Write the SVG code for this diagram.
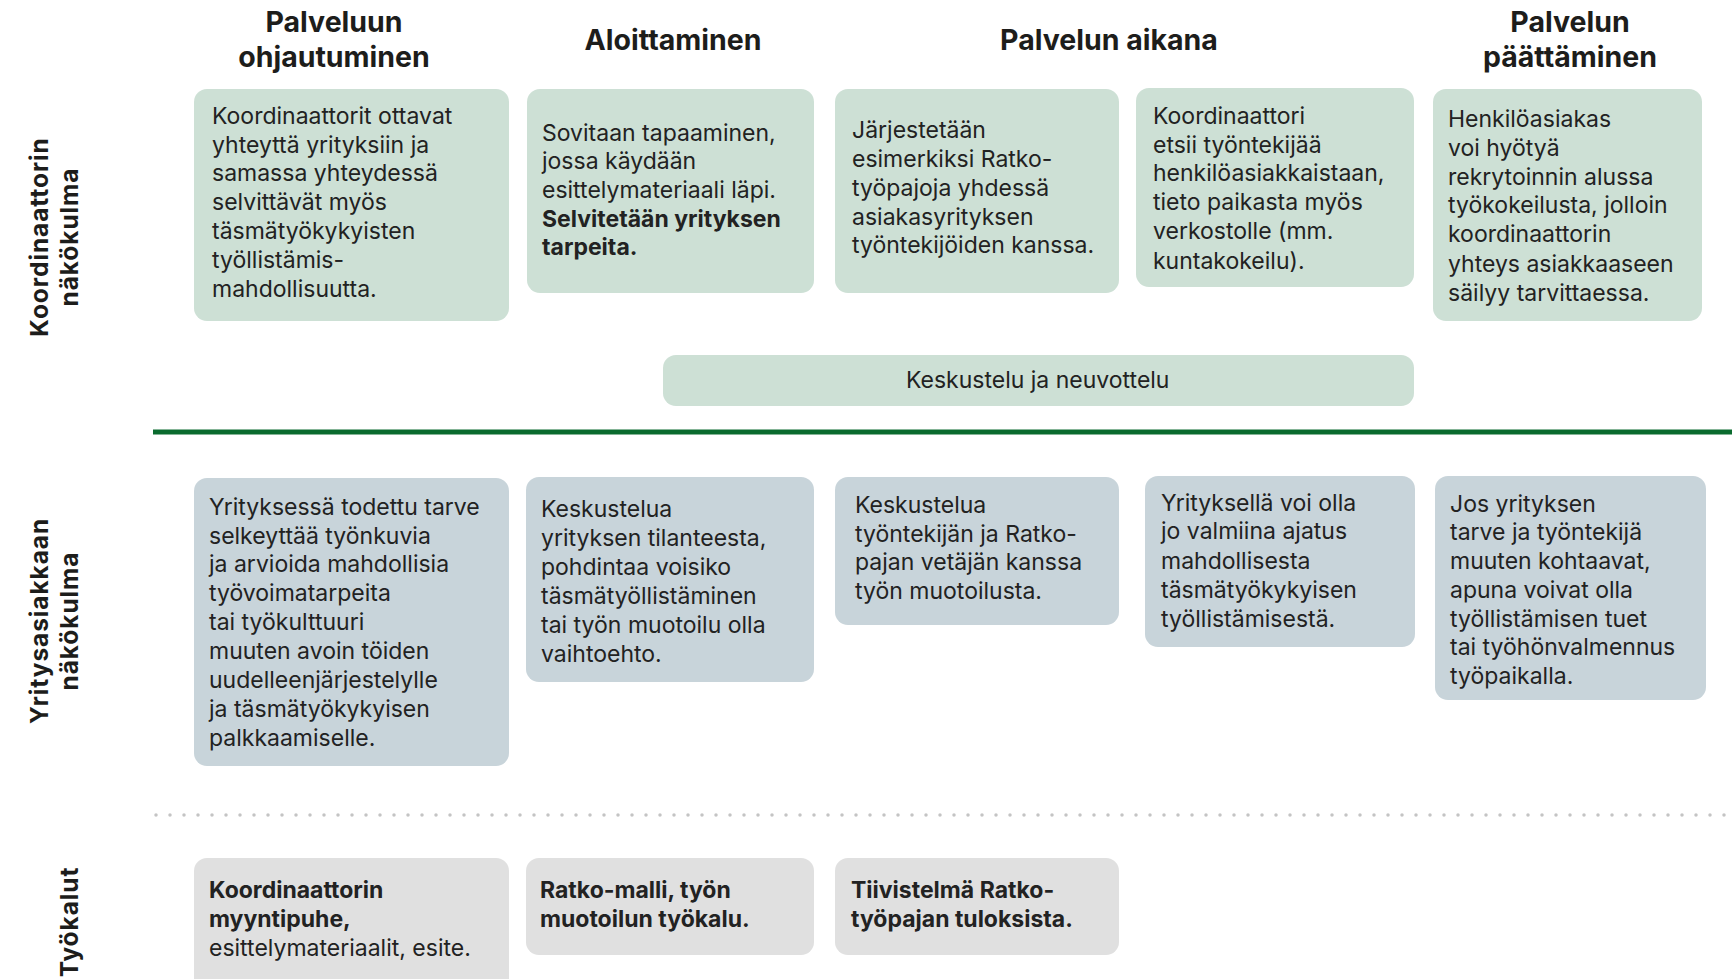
<svg xmlns="http://www.w3.org/2000/svg" width="1732" height="979" viewBox="0 0 1732 979">
<style>
.bg{fill:#ffffff}
.g{fill:#cde0d5}
.b{fill:#c8d4da}
.t{fill:#e0e0e0}
.h{font-family:Inter,"Open Sans","Liberation Sans",sans-serif;font-weight:700;font-size:28.5px;fill:#1d1d1b;text-anchor:middle}
.s{font-family:Inter,"Open Sans","Liberation Sans",sans-serif;font-weight:700;font-size:24.5px;letter-spacing:0.9px;fill:#1d1d1b;text-anchor:middle}
.x{font-family:Inter,"Open Sans","Liberation Sans",sans-serif;font-size:23px;fill:#222222}
.xb{font-weight:700}
</style>
<rect class="bg" x="0" y="0" width="1732" height="979"/>
<g id="headers">
<text class="h" x="334" y="32">Palveluun</text>
<text class="h" x="334" y="67">ohjautuminen</text>
<text class="h" x="673" y="50">Aloittaminen</text>
<text class="h" x="1109" y="50">Palvelun aikana</text>
<text class="h" x="1570" y="32">Palvelun</text>
<text class="h" x="1570" y="67">päättäminen</text>
</g>
<g id="rowlabels">
<text class="s" transform="translate(48,237) rotate(-90)">Koordinaattorin</text>
<text class="s" transform="translate(78,237) rotate(-90)">näkökulma</text>
<text class="s" transform="translate(48,621) rotate(-90)">Yritysasiakkaan</text>
<text class="s" transform="translate(78,621) rotate(-90)">näkökulma</text>
<text class="s" transform="translate(78,922) rotate(-90)">Työkalut</text>
</g>
<g id="connectors">
<line x1="153" y1="432" x2="1732" y2="432" stroke="#0a6b2e" stroke-width="5"/>
<line x1="156" y1="815" x2="1732" y2="815" stroke="#c4c4c4" stroke-width="3.5" stroke-linecap="round" stroke-dasharray="0 14"/>
</g>
<g id="b1"><rect class="g" x="194" y="89" width="315" height="232" rx="13"/>
<text class="x" x="212" y="124">Koordinaattorit ottavat</text>
<text class="x" x="212" y="153">yhteyttä yrityksiin ja</text>
<text class="x" x="212" y="181">samassa yhteydessä</text>
<text class="x" x="212" y="210">selvittävät myös</text>
<text class="x" x="212" y="239">täsmätyökykyisten</text>
<text class="x" x="212" y="268">työllistämis-</text>
<text class="x" x="212" y="297">mahdollisuutta.</text>
</g>
<g id="b2"><rect class="g" x="527" y="89" width="287" height="204" rx="13"/>
<text class="x" x="542" y="141">Sovitaan tapaaminen,</text>
<text class="x" x="542" y="169">jossa käydään</text>
<text class="x" x="542" y="198">esittelymateriaali läpi.</text>
<text class="x xb" x="542" y="227">Selvitetään yrityksen</text>
<text class="x xb" x="542" y="255">tarpeita.</text>
</g>
<g id="b3"><rect class="g" x="835" y="89" width="284" height="204" rx="13"/>
<text class="x" x="852" y="138">Järjestetään</text>
<text class="x" x="852" y="167">esimerkiksi Ratko-</text>
<text class="x" x="852" y="196">työpajoja yhdessä</text>
<text class="x" x="852" y="225">asiakasyrityksen</text>
<text class="x" x="852" y="253">työntekijöiden kanssa.</text>
</g>
<g id="b4"><rect class="g" x="1136" y="88" width="278" height="199" rx="13"/>
<text class="x" x="1153" y="124">Koordinaattori</text>
<text class="x" x="1153" y="153">etsii työntekijää</text>
<text class="x" x="1153" y="181">henkilöasiakkaistaan,</text>
<text class="x" x="1153" y="210">tieto paikasta myös</text>
<text class="x" x="1153" y="239">verkostolle (mm.</text>
<text class="x" x="1153" y="269">kuntakokeilu).</text>
</g>
<g id="b5"><rect class="g" x="1433" y="89" width="269" height="232" rx="13"/>
<text class="x" x="1448" y="127">Henkilöasiakas</text>
<text class="x" x="1448" y="156">voi hyötyä</text>
<text class="x" x="1448" y="185">rekrytoinnin alussa</text>
<text class="x" x="1448" y="213">työkokeilusta, jolloin</text>
<text class="x" x="1448" y="242">koordinaattorin</text>
<text class="x" x="1448" y="272">yhteys asiakkaaseen</text>
<text class="x" x="1448" y="301">säilyy tarvittaessa.</text>
</g>
<g id="keskustelu"><rect class="g" x="663" y="355" width="751" height="51" rx="13"/>
<text class="x" x="906" y="388">Keskustelu ja neuvottelu</text>
</g>
<g id="c1"><rect class="b" x="194" y="478" width="315" height="288" rx="13"/>
<text class="x" x="209" y="515">Yrityksessä todettu tarve</text>
<text class="x" x="209" y="544">selkeyttää työnkuvia</text>
<text class="x" x="209" y="572">ja arvioida mahdollisia</text>
<text class="x" x="209" y="601">työvoimatarpeita</text>
<text class="x" x="209" y="630">tai työkulttuuri</text>
<text class="x" x="209" y="659">muuten avoin töiden</text>
<text class="x" x="209" y="688">uudelleenjärjestelylle</text>
<text class="x" x="209" y="717">ja täsmätyökykyisen</text>
<text class="x" x="209" y="746">palkkaamiselle.</text>
</g>
<g id="c2"><rect class="b" x="526" y="477" width="288" height="205" rx="13"/>
<text class="x" x="541" y="517">Keskustelua</text>
<text class="x" x="541" y="546">yrityksen tilanteesta,</text>
<text class="x" x="541" y="575">pohdintaa voisiko</text>
<text class="x" x="541" y="604">täsmätyöllistäminen</text>
<text class="x" x="541" y="633">tai työn muotoilu olla</text>
<text class="x" x="541" y="662">vaihtoehto.</text>
</g>
<g id="c3"><rect class="b" x="835" y="477" width="284" height="148" rx="13"/>
<text class="x" x="855" y="513">Keskustelua</text>
<text class="x" x="855" y="542">työntekijän ja Ratko-</text>
<text class="x" x="855" y="570">pajan vetäjän kanssa</text>
<text class="x" x="855" y="599">työn muotoilusta.</text>
</g>
<g id="c4"><rect class="b" x="1145" y="476" width="270" height="171" rx="13"/>
<text class="x" x="1161" y="511">Yrityksellä voi olla</text>
<text class="x" x="1161" y="539">jo valmiina ajatus</text>
<text class="x" x="1161" y="569">mahdollisesta</text>
<text class="x" x="1161" y="598">täsmätyökykyisen</text>
<text class="x" x="1161" y="627">työllistämisestä.</text>
</g>
<g id="c5"><rect class="b" x="1435" y="476" width="271" height="224" rx="13"/>
<text class="x" x="1450" y="512">Jos yrityksen</text>
<text class="x" x="1450" y="540">tarve ja työntekijä</text>
<text class="x" x="1450" y="569">muuten kohtaavat,</text>
<text class="x" x="1450" y="598">apuna voivat olla</text>
<text class="x" x="1450" y="627">työllistämisen tuet</text>
<text class="x" x="1450" y="655">tai työhönvalmennus</text>
<text class="x" x="1450" y="684">työpaikalla.</text>
</g>
<g id="d1"><rect class="t" x="194" y="858" width="315" height="140" rx="13"/>
<text class="x xb" x="209" y="898">Koordinaattorin</text>
<text class="x xb" x="209" y="927">myyntipuhe,</text>
<text class="x" x="209" y="956">esittelymateriaalit, esite.</text>
</g>
<g id="d2"><rect class="t" x="526" y="858" width="288" height="97" rx="13"/>
<text class="x xb" x="540" y="898">Ratko-malli, työn</text>
<text class="x xb" x="540" y="927">muotoilun työkalu.</text>
</g>
<g id="d3"><rect class="t" x="835" y="858" width="284" height="97" rx="13"/>
<text class="x xb" x="851" y="898">Tiivistelmä Ratko-</text>
<text class="x xb" x="851" y="927">työpajan tuloksista.</text>
</g>
</svg>
